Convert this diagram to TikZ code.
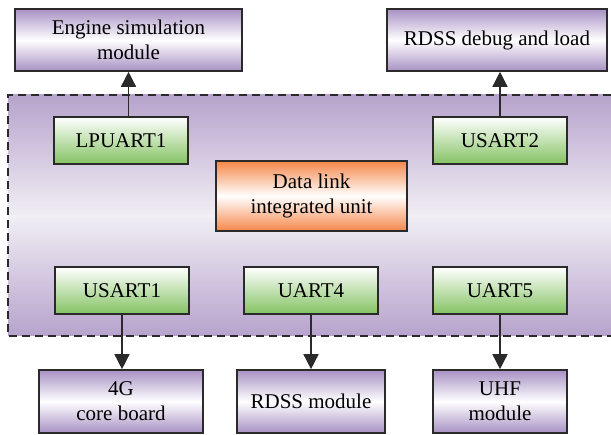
\documentclass[tikz,border=0pt]{standalone}
\usepackage{fontspec}
\setmainfont{Liberation Serif}
\usepackage{xcolor}
\usepackage{tikz}
\usetikzlibrary{arrows.meta,calc}
\definecolor{border}{HTML}{2A2A2A}
\definecolor{lilac}{HTML}{A891C4}
\definecolor{frametop}{HTML}{B7A3CC}
\definecolor{framemid}{HTML}{F1EEF4}
\definecolor{leaf}{HTML}{84C262}
\definecolor{amber}{HTML}{F5874A}
\tikzset{
  arr/.style={-{Triangle[width=15pt,length=15pt]}, line width=1.5pt, draw=border},
  modbox/.style={rectangle, draw=border, line width=1.6pt, top color=lilac, bottom color=lilac,
    middle color=white, align=center, font=\fontsize{21}{25}\selectfont},
  portbox/.style={rectangle, draw=border, line width=1.6pt, top color=white, bottom color=leaf,
    minimum width=134pt, minimum height=47pt, font=\fontsize{21}{25}\selectfont},
  unitbox/.style={rectangle, draw=border, line width=1.6pt, top color=amber, bottom color=amber,
    middle color=white, align=center, font=\fontsize{21}{25}\selectfont},
  framebox/.style={draw=border, line width=1.5pt, dash pattern=on 8pt off 5pt}
}
\begin{document}
\begin{tikzpicture}[x=1pt,y=-1pt,inner sep=0pt]
  \useasboundingbox (0,0) rectangle (611,435);
  % integrated unit frame
  \shade[top color=frametop, bottom color=frametop, middle color=framemid] (8,95) rectangle (611,336);
  \draw[framebox] (611,95) -- (8,95) -- (8,336) -- (611,336);
  % outside modules
  \node[modbox, minimum width=227pt, minimum height=62pt] (eng) at (128.5,40) {Engine simulation\\module};
  \node[modbox, minimum width=220pt, minimum height=62pt] (dbg) at (497,40) {RDSS debug and load};
  \node[modbox, minimum width=164pt, minimum height=63pt] (core) at (121,401.5) {4G\\core board};
  \node[modbox, minimum width=148pt, minimum height=63pt] (rdss) at (311,401.5) {RDSS module};
  \node[modbox, minimum width=134pt, minimum height=63pt] (uhf) at (500,401.5) {UHF\\module};
  % serial ports
  \node[portbox] (lpuart1) at (121,140.5) {LPUART1};
  \node[portbox] (usart2) at (500,140.5) {USART2};
  \node[portbox] (usart1) at (122,290.5) {USART1};
  \node[portbox] (uart4) at (311,290.5) {UART4};
  \node[portbox] (uart5) at (500,290.5) {UART5};
  \node[unitbox, minimum width=191pt, minimum height=70pt] (dlink) at (311.5,196) {Data link\\integrated unit};
  % links
  \draw[arr] (lpuart1.north -| eng.south) -- (eng.south);
  \draw[arr] (usart2.north) -- (usart2.north |- dbg.south);
  \draw[arr] (usart1.south) -- (usart1.south |- core.north);
  \draw[arr] (uart4.south) -- (rdss.north);
  \draw[arr] (uart5.south) -- (uhf.north);
\end{tikzpicture}
\end{document}
